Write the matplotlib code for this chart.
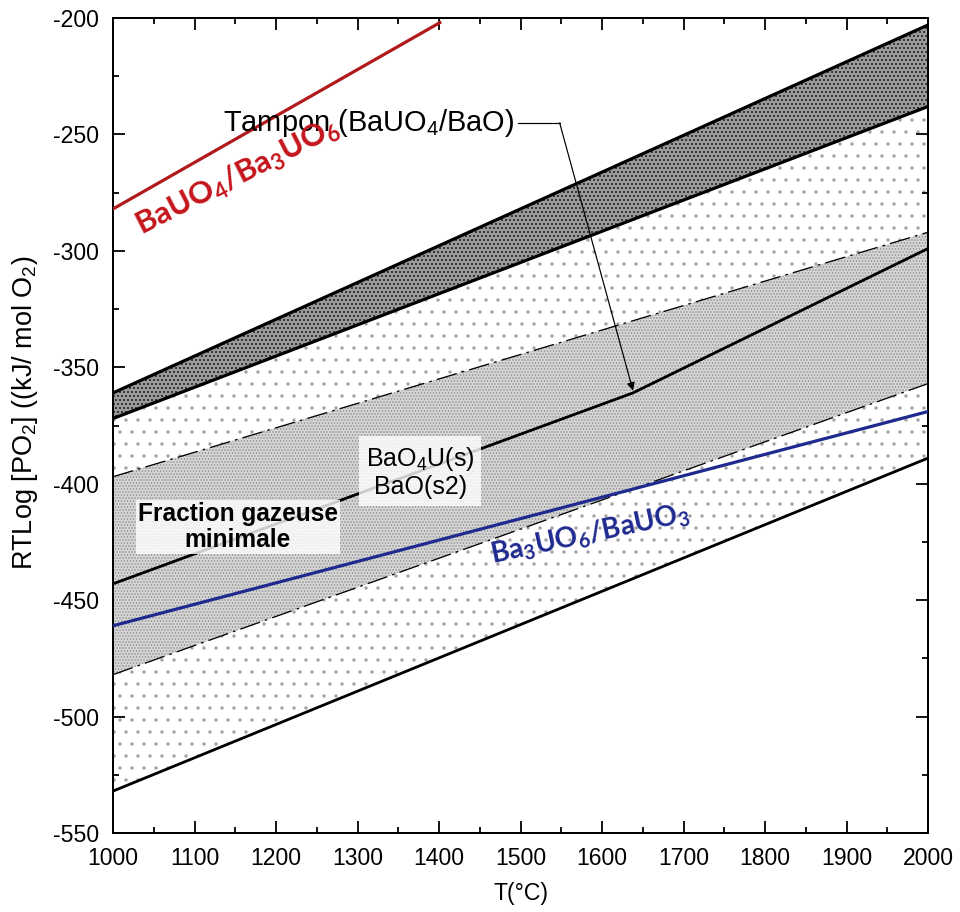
import matplotlib
matplotlib.use('Agg')
import matplotlib.pyplot as plt
from matplotlib.ticker import MultipleLocator

plt.rcParams['font.family'] = ['Liberation Sans', 'DejaVu Sans']
plt.rcParams['mathtext.fontset'] = 'custom'
plt.rcParams['mathtext.rm'] = 'Liberation Sans'
plt.rcParams['mathtext.it'] = 'Liberation Sans:italic'
plt.rcParams['mathtext.bf'] = 'Lato:bold'
plt.rcParams['axes.unicode_minus'] = False
plt.rcParams['hatch.linewidth'] = 0.9

# ---- data ----
T_ends = [1000, 2000]
band_top_upper = [-361, -203]
band_top_lower = [-372, -238]
dashdot_upper = [-397, -292]
dashdot_lower = [-482, -357]
bottom_line = [-532, -389]
blue_line = [-461, -369]
tampon_T = [1000, 1638, 2000]
tampon_y = [-443, -361, -299]
red_T = [1000, 1401]
red_y = [-282, -202]

x_ticks = [1000, 1100, 1200, 1300, 1400, 1500, 1600, 1700, 1800, 1900, 2000]
y_ticks = [-550, -500, -450, -400, -350, -300, -250, -200]

DPI = 72
fig = plt.figure(figsize=(960 / DPI, 912 / DPI), dpi=DPI)
ax = fig.add_axes([113 / 960, 1 - 833 / 912, (928 - 113) / 960, (833 - 18) / 912])

# fills
ax.fill_between(T_ends, band_top_lower, bottom_line, facecolor='white',
                edgecolor='#a2a2a2', hatch='.', linewidth=0, zorder=1)
ax.fill_between(T_ends, dashdot_lower, dashdot_upper, facecolor='#d6d6d6',
                edgecolor='#8a8a8a', hatch='....', linewidth=0, zorder=2)
ax.fill_between(T_ends, band_top_lower, band_top_upper, facecolor='#9a9a9a',
                edgecolor='black', hatch='...', linewidth=0, zorder=2)

# lines
ax.plot(T_ends, band_top_upper, color='black', lw=3.2, zorder=3)
ax.plot(T_ends, band_top_lower, color='black', lw=3.2, zorder=3)
ax.plot(T_ends, dashdot_upper, color='black', lw=1.3, ls=(0, (16, 4, 2, 4)), zorder=3)
ax.plot(T_ends, dashdot_lower, color='black', lw=1.3, ls=(0, (16, 4, 2, 4)), zorder=3)
ax.plot(T_ends, bottom_line, color='black', lw=2.8, zorder=3)
ax.plot(tampon_T, tampon_y, color='black', lw=2.8, zorder=3)
ax.plot(T_ends, blue_line, color='#1f2a8f', lw=3.2, zorder=4)
ax.plot(red_T, red_y, color='#b01a1a', lw=3.2, zorder=4)

ax.set_xlim(1000, 2000)
ax.set_ylim(-550, -200)
ax.set_xticks(x_ticks)
ax.set_yticks(y_ticks)
ax.xaxis.set_minor_locator(MultipleLocator(50))
ax.yaxis.set_minor_locator(MultipleLocator(25))
ax.tick_params(which='both', direction='in', top=True, right=True, width=1.8,
               labelsize=23, pad=14)
ax.tick_params(which='major', length=12)
ax.tick_params(which='minor', length=6)
for s in ax.spines.values():
    s.set_linewidth(2)

ax.set_xlabel('T(°C)', fontsize=23, labelpad=12)
fig.text(25 / 960, 1 - 413 / 912, 'RTLog [PO$_2$] ((kJ/ mol O$_2$)', fontsize=27,
         rotation=90, ha='center', va='center')

# annotations
ax.text(1492, -245, 'Tampon (BaUO$_4$/BaO)', ha='right', va='center', fontsize=29, zorder=6)
ax.plot([1497, 1548], [-245, -245], color='black', lw=1.2, zorder=6)
ax.annotate('', xy=(1638, -360), xytext=(1548, -245),
            arrowprops=dict(arrowstyle='-|>', color='black', lw=1.2,
                            mutation_scale=16, shrinkA=0, shrinkB=0), zorder=6)

ax.text(1153, -268, 'BaUO$_\\mathbf{4}$/Ba$_\\mathbf{3}$UO$_\\mathbf{6}$', color='#c4161c',
        family='Lato', fontweight='bold', fontsize=31, rotation=27,
        ha='center', va='center', rotation_mode='anchor', zorder=6)
ax.text(1585, -422, 'Ba$_\\mathbf{3}$UO$_\\mathbf{6}$/BaUO$_\\mathbf{3}$', color='#1f2a8f',
        family='Lato', fontweight='bold', fontsize=28, rotation=12,
        ha='center', va='center', rotation_mode='anchor', zorder=6)

ax.text(1153, -418.5, 'Fraction gazeuse\nminimale', fontweight='bold', fontsize=24.5,
        ha='center', va='center', linespacing=1.1, zorder=5,
        bbox=dict(facecolor='white', alpha=0.8, edgecolor='none', pad=2))
ax.text(1377, -395, 'BaO$_4$U(s)\nBaO(s2)', fontsize=25, ha='center', va='center',
        linespacing=1.1, zorder=5,
        bbox=dict(facecolor='white', alpha=0.8, edgecolor='none', pad=7))

fig.savefig('out.png', dpi=DPI)
